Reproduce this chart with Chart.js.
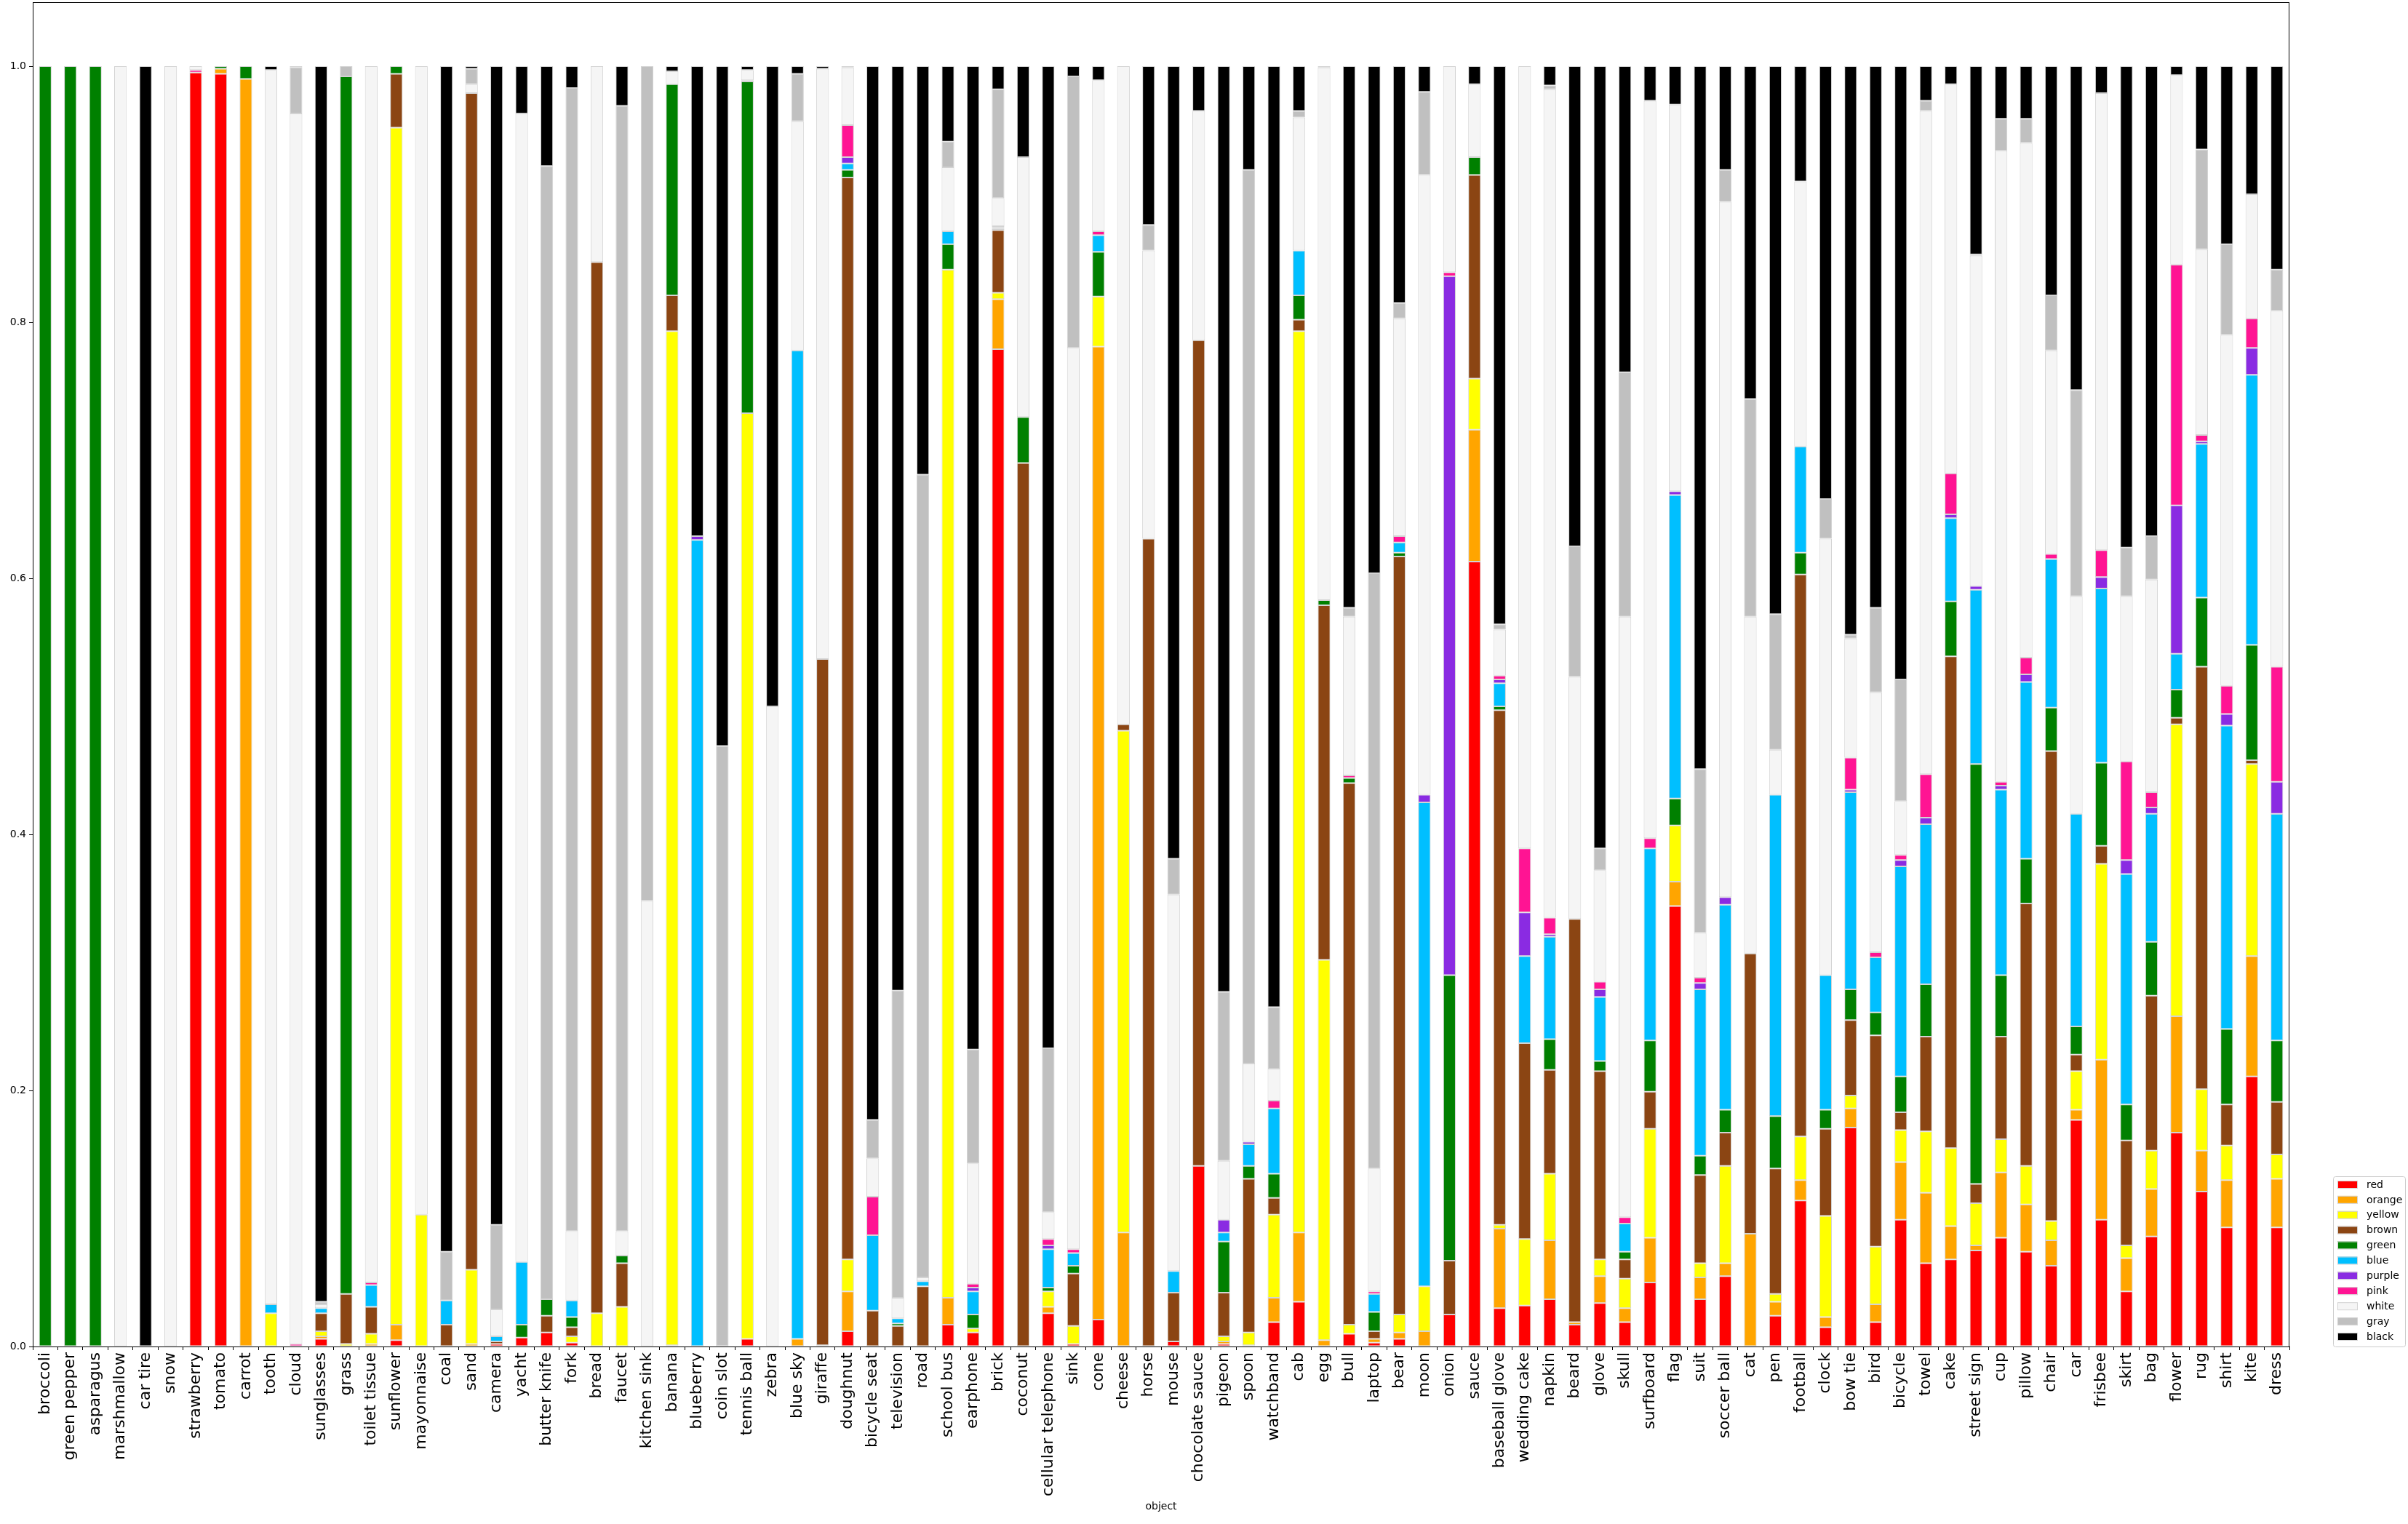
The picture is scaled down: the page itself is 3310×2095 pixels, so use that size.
<!DOCTYPE html>
<html>
<head>
<meta charset="utf-8">
<script src="https://cdn.jsdelivr.net/npm/chart.js@4.4.1/dist/chart.umd.min.js"></script>
<style>
  body { margin: 0; background: #fff; }
  canvas { display: block; }
</style>
</head>
<body>
<canvas id="grafico" width="3310" height="2095" style="width:3310px;height:2095px"></canvas>
<script>
const objetos = ['broccoli', 'green pepper', 'asparagus', 'marshmallow', 'car tire', 'snow', 'strawberry', 'tomato', 'carrot', 'tooth',
    'cloud', 'sunglasses', 'grass', 'toilet tissue', 'sunflower', 'mayonnaise', 'coal', 'sand', 'camera', 'yacht',
    'butter knife', 'fork', 'bread', 'faucet', 'kitchen sink', 'banana', 'blueberry', 'coin slot', 'tennis ball', 'zebra',
    'blue sky', 'giraffe', 'doughnut', 'bicycle seat', 'television', 'road', 'school bus', 'earphone', 'brick', 'coconut',
    'cellular telephone', 'sink', 'cone', 'cheese', 'horse', 'mouse', 'chocolate sauce', 'pigeon', 'spoon', 'watchband',
    'cab', 'egg', 'bull', 'laptop', 'bear', 'moon', 'onion', 'sauce', 'baseball glove', 'wedding cake',
    'napkin', 'beard', 'glove', 'skull', 'surfboard', 'flag', 'suit', 'soccer ball', 'cat', 'pen',
    'football', 'clock', 'bow tie', 'bird', 'bicycle', 'towel', 'cake', 'street sign', 'cup', 'pillow',
    'chair', 'car', 'frisbee', 'skirt', 'bag', 'flower', 'rug', 'shirt', 'kite', 'dress'];

const red = [0, 0, 0, 0, 0, 0, 0.995, 0.994, 0, 0,
    0, 0.006, 0, 0, 0.005, 0, 0, 0, 0.002, 0.007,
    0.011, 0.003, 0, 0, 0, 0.001, 0, 0, 0.006, 0,
    0, 0, 0.012, 0, 0, 0, 0.017, 0.011, 0.779, 0,
    0.026, 0.002, 0.021, 0, 0, 0.004, 0.141, 0.002, 0.001, 0.019,
    0.035, 0, 0.01, 0.003, 0.006, 0, 0.025, 0.613, 0.03, 0.032,
    0.037, 0.017, 0.034, 0.019, 0.05, 0.344, 0.037, 0.055, 0, 0.024,
    0.114, 0.015, 0.171, 0.019, 0.099, 0.065, 0.068, 0.075, 0.085, 0.074,
    0.063, 0.177, 0.099, 0.043, 0.086, 0.167, 0.121, 0.093, 0.211, 0.093];
const orange = [0, 0, 0, 0, 0, 0, 0, 0.004, 0.99, 0,
    0, 0.002, 0, 0.002, 0.012, 0, 0, 0.002, 0, 0,
    0, 0, 0, 0, 0, 0, 0, 0, 0, 0,
    0.006, 0.001, 0.031, 0, 0, 0, 0.021, 0, 0.039, 0,
    0.005, 0, 0.76, 0.089, 0, 0, 0, 0.002, 0, 0.019,
    0.054, 0.005, 0, 0.003, 0.005, 0.012, 0, 0.103, 0.062, 0,
    0.046, 0.002, 0.021, 0.011, 0.035, 0.019, 0.017, 0.01, 0.088, 0.011,
    0.016, 0.008, 0.015, 0.014, 0.045, 0.055, 0.026, 0.004, 0.051, 0.037,
    0.02, 0.008, 0.125, 0.026, 0.037, 0.091, 0.032, 0.037, 0.094, 0.038];
const yellow = [0, 0, 0, 0, 0, 0, 0, 0, 0, 0.026,
    0, 0.004, 0.002, 0.008, 0.935, 0.103, 0, 0.058, 0, 0,
    0, 0.005, 0.026, 0.031, 0, 0.792, 0, 0, 0.723, 0,
    0, 0, 0.025, 0, 0, 0, 0.803, 0.003, 0.005, 0,
    0.012, 0.014, 0.039, 0.392, 0, 0, 0, 0.004, 0.01, 0.065,
    0.704, 0.297, 0.007, 0, 0.014, 0.035, 0, 0.04, 0.003, 0.052,
    0.052, 0, 0.013, 0.023, 0.085, 0.044, 0.011, 0.076, 0, 0.006,
    0.034, 0.079, 0.01, 0.045, 0.025, 0.048, 0.061, 0.033, 0.026, 0.03,
    0.015, 0.03, 0.153, 0.01, 0.03, 0.228, 0.048, 0.027, 0.15, 0.019];
const brown = [0, 0, 0, 0, 0, 0, 0, 0, 0, 0,
    0, 0.014, 0.039, 0.021, 0.042, 0, 0.017, 0.919, 0.002, 0,
    0.013, 0.007, 0.821, 0.034, 0, 0.028, 0, 0, 0, 0,
    0, 0.536, 0.845, 0.028, 0.016, 0.047, 0, 0, 0.049, 0.69,
    0, 0.041, 0, 0.005, 0.631, 0.038, 0.645, 0.034, 0.12, 0.013,
    0.009, 0.277, 0.423, 0.006, 0.592, 0, 0.042, 0.159, 0.402, 0.153,
    0.081, 0.315, 0.147, 0.015, 0.029, 0, 0.069, 0.026, 0.219, 0.098,
    0.439, 0.068, 0.059, 0.165, 0.014, 0.074, 0.384, 0.015, 0.08, 0.205,
    0.367, 0.013, 0.014, 0.082, 0.121, 0.005, 0.33, 0.032, 0.003, 0.041];
const green = [1, 1, 1, 0, 0, 0, 0, 0.002, 0.01, 0,
    0, 0, 0.951, 0, 0.006, 0, 0, 0, 0, 0.01,
    0.013, 0.008, 0, 0.006, 0, 0.165, 0, 0, 0.259, 0,
    0, 0, 0.006, 0, 0.002, 0, 0.02, 0.011, 0.001, 0.036,
    0.003, 0.006, 0.035, 0, 0, 0, 0, 0.04, 0.01, 0.019,
    0.019, 0.004, 0.004, 0.015, 0.003, 0, 0.223, 0.014, 0.003, 0,
    0.024, 0, 0.008, 0.006, 0.04, 0.021, 0.015, 0.018, 0, 0.041,
    0.017, 0.015, 0.024, 0.018, 0.028, 0.041, 0.043, 0.328, 0.048, 0.035,
    0.034, 0.022, 0.065, 0.028, 0.042, 0.022, 0.054, 0.059, 0.09, 0.048];
const blue = [0, 0, 0, 0, 0, 0, 0, 0, 0, 0.007,
    0, 0.004, 0, 0.017, 0, 0, 0.019, 0, 0.004, 0.049,
    0, 0.013, 0, 0, 0, 0, 0.63, 0, 0, 0,
    0.772, 0, 0.005, 0.059, 0.004, 0.004, 0.01, 0.018, 0.001, 0,
    0.03, 0.01, 0.013, 0, 0, 0.017, 0, 0.007, 0.017, 0.051,
    0.035, 0, 0, 0.014, 0.008, 0.378, 0, 0, 0.018, 0.068,
    0.08, 0, 0.05, 0.022, 0.15, 0.237, 0.13, 0.16, 0, 0.251,
    0.083, 0.105, 0.154, 0.043, 0.164, 0.125, 0.065, 0.136, 0.145, 0.138,
    0.116, 0.166, 0.136, 0.18, 0.1, 0.028, 0.12, 0.237, 0.211, 0.177];
const purple = [0, 0, 0, 0, 0, 0, 0, 0, 0, 0,
    0, 0, 0, 0, 0, 0, 0, 0, 0, 0,
    0, 0, 0, 0, 0, 0, 0.003, 0, 0, 0,
    0, 0, 0.005, 0, 0, 0, 0, 0.003, 0, 0,
    0.003, 0, 0, 0, 0, 0, 0, 0.01, 0.002, 0,
    0, 0, 0, 0, 0, 0.006, 0.546, 0, 0.003, 0.034,
    0.002, 0, 0.006, 0, 0, 0.003, 0.005, 0.006, 0, 0,
    0, 0, 0.002, 0, 0.005, 0.005, 0.003, 0.003, 0.003, 0.006,
    0, 0, 0.009, 0.011, 0.005, 0.116, 0.002, 0.009, 0.021, 0.025];
const pink = [0, 0, 0, 0, 0, 0, 0.002, 0, 0, 0,
    0.002, 0, 0, 0.002, 0, 0, 0, 0, 0, 0,
    0, 0, 0, 0, 0, 0, 0, 0, 0.001, 0,
    0, 0, 0.025, 0.03, 0, 0, 0, 0.003, 0.001, 0,
    0.005, 0.003, 0.003, 0, 0, 0, 0, 0, 0, 0.006,
    0, 0, 0.002, 0.002, 0.005, 0, 0.003, 0, 0.003, 0.05,
    0.013, 0, 0.006, 0.005, 0.008, 0, 0.004, 0, 0, 0,
    0, 0, 0.025, 0.004, 0.004, 0.034, 0.032, 0, 0.003, 0.013,
    0.004, 0, 0.021, 0.077, 0.012, 0.188, 0.005, 0.022, 0.023, 0.09];
const white = [0, 0, 0, 1, 0, 1, 0.003, 0, 0, 0.964,
    0.961, 0.003, 0, 0.95, 0, 0.897, 0, 0.007, 0.021, 0.897,
    0, 0.054, 0.153, 0.019, 0.348, 0.01, 0, 0, 0.008, 0.5,
    0.179, 0.461, 0.045, 0.03, 0.016, 0.003, 0.05, 0.094, 0.022, 0.203,
    0.021, 0.704, 0.118, 0.514, 0.225, 0.294, 0.179, 0.046, 0.061, 0.025,
    0.104, 0.416, 0.124, 0.096, 0.17, 0.484, 0.161, 0.057, 0.036, 0.611,
    0.647, 0.189, 0.087, 0.469, 0.576, 0.302, 0.035, 0.543, 0.263, 0.035,
    0.207, 0.341, 0.093, 0.203, 0.042, 0.518, 0.304, 0.258, 0.493, 0.402,
    0.159, 0.17, 0.357, 0.129, 0.166, 0.148, 0.145, 0.274, 0.097, 0.278];
const gray = [0, 0, 0, 0, 0, 0, 0, 0, 0, 0,
    0.036, 0.002, 0.008, 0, 0, 0, 0.038, 0.012, 0.066, 0,
    0.885, 0.893, 0, 0.879, 0.652, 0, 0, 0.469, 0, 0,
    0.037, 0, 0, 0.03, 0.24, 0.627, 0.02, 0.089, 0.085, 0,
    0.128, 0.212, 0, 0, 0.02, 0.028, 0, 0.132, 0.698, 0.048,
    0.005, 0, 0.007, 0.465, 0.012, 0.065, 0, 0, 0.004, 0,
    0.003, 0.102, 0.017, 0.191, 0, 0, 0.128, 0.025, 0.17, 0.106,
    0, 0.031, 0.003, 0.066, 0.095, 0.008, 0, 0.001, 0.025, 0.019,
    0.043, 0.161, 0, 0.038, 0.034, 0, 0.078, 0.071, 0, 0.032];
const black = [0, 0, 0, 0, 1, 0, 0, 0, 0, 0.003,
    0.001, 0.965, 0, 0, 0, 0, 0.926, 0.002, 0.905, 0.037,
    0.078, 0.017, 0, 0.031, 0, 0.004, 0.367, 0.531, 0.003, 0.5,
    0.006, 0.002, 0.001, 0.823, 0.722, 0.319, 0.059, 0.768, 0.018, 0.071,
    0.767, 0.008, 0.011, 0, 0.124, 0.619, 0.035, 0.723, 0.081, 0.735,
    0.035, 0.001, 0.423, 0.396, 0.185, 0.02, 0, 0.014, 0.436, 0,
    0.015, 0.375, 0.611, 0.239, 0.027, 0.03, 0.549, 0.081, 0.26, 0.428,
    0.09, 0.338, 0.444, 0.423, 0.479, 0.027, 0.014, 0.147, 0.041, 0.041,
    0.179, 0.253, 0.021, 0.376, 0.367, 0.007, 0.065, 0.139, 0.1, 0.159];

const yTicks = [0, 0.2, 0.4, 0.6, 0.8, 1.0];

const nombres = ['red', 'orange', 'yellow', 'brown', 'green', 'blue', 'purple', 'pink', 'white', 'gray', 'black'];
const series = [red, orange, yellow, brown, green, blue, purple, pink, white, gray, black];
const colores = ['#ff0000', '#ffa500', '#ffff00', '#8b4513', '#008000', '#00bfff', '#8a2be2', '#ff1493', '#f5f5f5', '#c0c0c0', '#000000'];

let datasets = [];
for (let i = 0; i < series.length; i++) {
    datasets.push({
        label: nombres[i],
        data: series[i].map(v => v > 0 ? v : null),
        backgroundColor: colores[i],
        borderColor: '#d3d3d3',
        borderWidth: 1,
        borderSkipped: false,
        barPercentage: 0.5,
        categoryPercentage: 1.0
    });
}

// marco del eje y leyenda dibujada a mano (estilo matplotlib)
const marcoLeyenda = {
    id: 'marcoLeyenda',
    afterDraw(chart) {
        const ctx = chart.ctx;
        const a = chart.chartArea;
        ctx.save();
        ctx.strokeStyle = '#000';
        ctx.lineWidth = 1;
        ctx.strokeRect(a.left + 0.5, a.top + 0.5, a.right - a.left - 1, a.bottom - a.top);

        const x0 = 3207, y0 = 1617, w = 99, h = 234;
        ctx.beginPath();
        ctx.roundRect(x0 + 0.5, y0 + 0.5, w, h, 3);
        ctx.fillStyle = 'rgba(255,255,255,0.8)';
        ctx.fill();
        ctx.strokeStyle = '#cccccc';
        ctx.stroke();

        ctx.font = '14px "DejaVu Sans"';
        ctx.textBaseline = 'middle';
        for (let i = 0; i < nombres.length; i++) {
            const cy = 1628 + 20.9 * i;
            ctx.fillStyle = colores[i];
            ctx.fillRect(3213, cy - 5, 27, 10);
            ctx.strokeStyle = '#d3d3d3';
            ctx.strokeRect(3213.5, cy - 4.5, 27, 10);
            ctx.fillStyle = '#000';
            ctx.fillText(nombres[i], 3253, cy + 1);
        }
        ctx.restore();
    }
};

Chart.defaults.font.family = '"DejaVu Sans", sans-serif';
Chart.defaults.color = '#000';

const ctx = document.getElementById('grafico');
const myChart = new Chart(ctx, {
    type: 'bar',
    data: {
        labels: objetos,
        datasets: datasets
    },
    options: {
        responsive: false,
        devicePixelRatio: 1,
        animation: false,
        layout: { padding: { top: 3, right: 163, left: 0, bottom: 0 } },
        plugins: {
            legend: { display: false },
            tooltip: { enabled: false }
        },
        scales: {
            x: {
                stacked: true,
                grid: { drawOnChartArea: false, drawTicks: true, tickLength: 5, color: '#000' },
                border: { display: true, color: '#000' },
                ticks: {
                    autoSkip: false,
                    minRotation: 90,
                    maxRotation: 90,
                    padding: 3,
                    font: { size: 22 }
                },
                title: {
                    display: true,
                    text: 'object',
                    font: { size: 14 },
                    padding: { top: 4, bottom: 15 }
                },
                afterFit: function (scale) {
                    scale.height = 244;
                    scale.paddingLeft = 0;
                    scale.paddingRight = 0;
                }
            },
            y: {
                stacked: true,
                min: 0,
                max: 1.05,
                grid: { drawOnChartArea: false, drawTicks: true, tickLength: 5, color: '#000' },
                border: { display: true, color: '#000' },
                ticks: {
                    font: { size: 14 },
                    padding: 4,
                    callback: function (v) { return v.toFixed(1); }
                },
                afterBuildTicks: function (scale) {
                    scale.ticks = yTicks.map(v => ({ value: v }));
                },
                afterFit: function (scale) {
                    scale.width = 45;
                    scale.paddingTop = 0;
                    scale.paddingBottom = 0;
                }
            }
        }
    },
    plugins: [marcoLeyenda]
});
</script>
</body>
</html>
